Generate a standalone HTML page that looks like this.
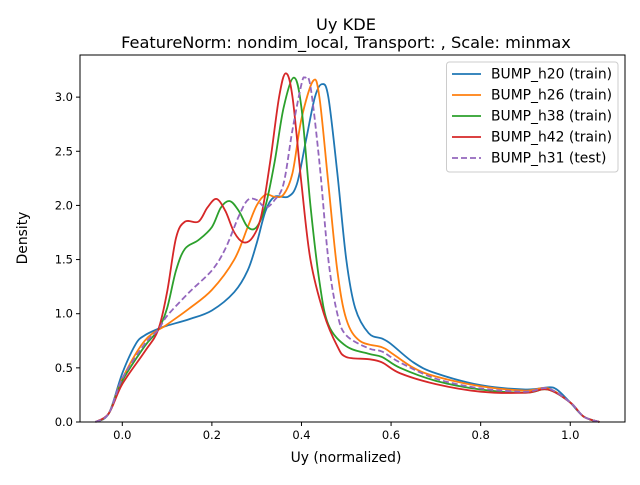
<!DOCTYPE html>
<html><head><meta charset="utf-8"><style>
body{margin:0;background:#fff}
svg text{font-family:"DejaVu Sans","Liberation Sans",sans-serif;fill:#000}
</style></head><body>
<svg id="chart" width="640" height="480" xmlns="http://www.w3.org/2000/svg">
<rect width="640" height="480" fill="#fff"/>
<text x="346" y="30" font-size="16.2" text-anchor="middle">Uy KDE</text>
<text x="346" y="48" font-size="16.2" text-anchor="middle">FeatureNorm: nondim_local, Transport: , Scale: minmax</text>
<g id="plot"></g>
<text x="346" y="462" font-size="13.9" text-anchor="middle">Uy (normalized)</text>
<text x="27" y="238" font-size="13.9" text-anchor="middle" transform="rotate(-90 27 238)">Density</text>
</svg>
<script>
const xTicks=[0,0.2,0.4,0.6,0.8,1.0];
const xTickLabels=["0.0","0.2","0.4","0.6","0.8","1.0"];
const yTicks=[0,0.5,1,1.5,2,2.5,3];
const yTickLabels=["0.0","0.5","1.0","1.5","2.0","2.5","3.0"];
const seriesNames=["BUMP_h20 (train)","BUMP_h26 (train)","BUMP_h38 (train)","BUMP_h42 (train)","BUMP_h31 (test)"];
const h20X=[-0.06,-0.03,0,0.03,0.05,0.08,0.1,0.15,0.2,0.25,0.28,0.3,0.32,0.34,0.37,0.39,0.41,0.43,0.446,0.46,0.48,0.5,0.52,0.55,0.58,0.6,0.65,0.7,0.8,0.9,0.95,0.97,1.0,1.03,1.065];
const h20Y=[0,0.08,0.45,0.72,0.8,0.86,0.89,0.95,1.03,1.2,1.4,1.65,1.95,2.08,2.08,2.2,2.6,3.0,3.12,3.0,2.3,1.5,1.05,0.82,0.77,0.72,0.55,0.45,0.34,0.3,0.32,0.3,0.18,0.05,0];
const h26X=[-0.06,-0.03,0,0.05,0.1,0.15,0.2,0.25,0.28,0.3,0.32,0.34,0.36,0.38,0.4,0.426,0.44,0.46,0.48,0.5,0.53,0.58,0.6,0.65,0.7,0.8,0.9,0.95,1.0,1.03,1.065];
const h26Y=[0,0.08,0.4,0.75,0.9,1.05,1.22,1.5,1.8,2.0,2.1,2.08,2.1,2.3,2.8,3.15,3.0,2.2,1.4,0.95,0.75,0.69,0.64,0.5,0.42,0.33,0.29,0.31,0.18,0.05,0];
const h38X=[-0.06,-0.03,0,0.05,0.08,0.1,0.12,0.14,0.17,0.2,0.22,0.24,0.26,0.28,0.3,0.32,0.34,0.36,0.383,0.4,0.42,0.44,0.46,0.5,0.55,0.58,0.62,0.7,0.8,0.9,0.95,1.0,1.03,1.065];
const h38Y=[0,0.08,0.38,0.7,0.85,1.05,1.4,1.6,1.68,1.8,1.98,2.04,1.95,1.8,1.8,2.0,2.4,2.9,3.18,2.9,2.0,1.3,0.9,0.7,0.63,0.6,0.5,0.38,0.3,0.27,0.3,0.18,0.05,0];
const h42X=[-0.06,-0.03,0,0.05,0.08,0.1,0.12,0.14,0.17,0.19,0.21,0.23,0.25,0.27,0.29,0.31,0.33,0.35,0.365,0.38,0.4,0.42,0.45,0.48,0.5,0.55,0.58,0.62,0.7,0.8,0.9,0.95,1.0,1.03,1.065];
const h42Y=[0,0.08,0.35,0.65,0.85,1.2,1.7,1.85,1.85,1.98,2.06,1.95,1.75,1.66,1.7,1.9,2.4,3.0,3.22,3.0,2.2,1.5,1.0,0.7,0.6,0.58,0.55,0.45,0.35,0.28,0.27,0.3,0.18,0.05,0];
const h31X=[-0.06,-0.03,0,0.05,0.08,0.1,0.15,0.2,0.23,0.26,0.28,0.3,0.32,0.34,0.36,0.38,0.4,0.408,0.42,0.44,0.46,0.48,0.5,0.55,0.58,0.62,0.7,0.8,0.9,0.95,1.0,1.03,1.065];
const h31Y=[0,0.08,0.4,0.72,0.85,0.98,1.2,1.4,1.6,1.9,2.05,2.05,1.98,2.05,2.2,2.7,3.12,3.18,3.1,2.4,1.5,1.0,0.8,0.68,0.65,0.55,0.4,0.31,0.28,0.31,0.18,0.05,0];
const colors=["#1f77b4","#ff7f0e","#2ca02c","#d62728","#9467bd"];
const X0=80,X1=625,Y0=55,Y1=422;
const xMin=-0.0944,xMax=1.1222,yMin=0,yMax=3.389;
const sx=v=>X0+(v-xMin)/(xMax-xMin)*(X1-X0);
const sy=v=>Y1-(v-yMin)/(yMax-yMin)*(Y1-Y0);
const NS="http://www.w3.org/2000/svg";
const g=document.getElementById('plot');
function mk(t,a){const e=document.createElementNS(NS,t);for(const k in a)e.setAttribute(k,a[k]);g.appendChild(e);return e;}
function path(xs,ys){const p=xs.map((x,i)=>[sx(x),sy(ys[i])]);let d="M"+p[0][0]+","+p[0][1];
for(let i=0;i<p.length-1;i++){const a=p[Math.max(i-1,0)],b=p[i],c=p[i+1],e=p[Math.min(i+2,p.length-1)];
d+=" C"+(b[0]+(c[0]-a[0])/6)+","+(b[1]+(c[1]-a[1])/6)+" "+(c[0]-(e[0]-b[0])/6)+","+(c[1]-(e[1]-b[1])/6)+" "+c[0]+","+c[1];}return d;}
const allX=[h20X,h26X,h38X,h42X,h31X],allY=[h20Y,h26Y,h38Y,h42Y,h31Y];
allX.forEach((xs,i)=>{const e=mk('path',{d:path(xs,allY[i]),fill:'none',stroke:colors[i],'stroke-width':1.8});
if(i===4)e.setAttribute('stroke-dasharray','6,3');

});
const fr=mk('rect',{x:X0,y:Y0,width:X1-X0,height:Y1-Y0,fill:'none',stroke:'#000','stroke-width':1});


xTicks.forEach((v,i)=>{const x=sx(v);mk('line',{x1:x,x2:x,y1:Y1,y2:Y1+4,stroke:'#000'});
const t=mk('text',{x:x,y:Y1+17,'font-size':11.5,'text-anchor':'middle'});t.textContent=xTickLabels[i];

});
yTicks.forEach((v,i)=>{const y=sy(v);mk('line',{x1:X0-4,x2:X0,y1:y,y2:y,stroke:'#000'});
const t=mk('text',{x:X0-7,y:y+4,'font-size':11.5,'text-anchor':'end'});t.textContent=yTickLabels[i];

});
const lg=mk('rect',{x:446.5,y:62,width:171.5,height:110,rx:3,fill:'#fff','fill-opacity':0.8,stroke:'#ccc'});


seriesNames.forEach((n,i)=>{const y=74+i*21;const l=mk('line',{x1:452,x2:481,y1:y,y2:y,stroke:colors[i],'stroke-width':1.8});
if(i===4)l.setAttribute('stroke-dasharray','6,3');
const t=mk('text',{x:491,y:y+4.5,'font-size':13.9});t.textContent=n;

});
</script>
</body></html>
